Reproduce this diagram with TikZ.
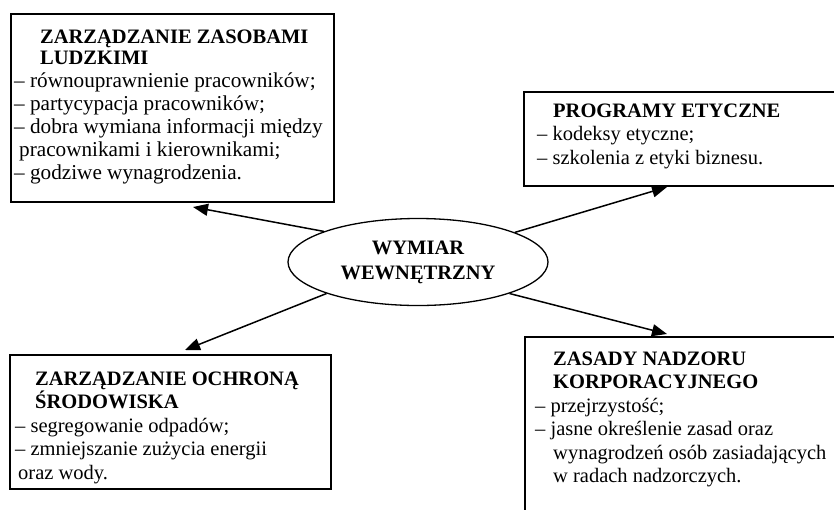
\documentclass[tikz,border=0pt]{standalone}
\usepackage{fontspec}
\setmainfont{Liberation Serif}
\usetikzlibrary{arrows.meta,shapes.geometric}
\begin{document}
\begin{tikzpicture}[x=1pt,y=-1pt,
  frame/.style={draw, line width=1.5pt, anchor=north west, inner sep=0pt},
  body/.style={inner sep=0pt, anchor=north west, align=left,
               font=\fontsize{20.5}{23.5}\selectfont},
  link/.style={line width=1.5pt, -{Triangle[length=15pt,width=12pt]}},
]
\useasboundingbox (0,0) rectangle (834,509);
\clip (0,0) rectangle (834,509);
\newcommand{\firstline}{\rule{0pt}{20pt}}
\newcommand{\headline}[1]{{\fontsize{20.5}{23}\selectfont\textbf{#1}}}

% frames (the right-hand ones run past the page edge)
\node[frame, minimum width=323pt, minimum height=188pt] (hr) at (10,13) {};
\node[frame, minimum width=330pt, minimum height=94pt] (eth) at (523,91) {};
\node[frame, minimum width=321pt, minimum height=134pt] (env) at (9,354) {};
\node[frame, minimum width=330pt, minimum height=190pt] (gov) at (524,336) {};

% texts
\node[body, font=\fontsize{21.2}{23}\selectfont] (hrtext) at (14,23)
  {\firstline\hspace*{26pt}\headline{ZARZĄDZANIE ZASOBAMI}\\[-2pt]
  \hspace*{26pt}\headline{LUDZKIMI}\\
  – równouprawnienie pracowników;\\
  – partycypacja pracowników;\\
  – dobra wymiana informacji między\\
  \hspace*{5pt}pracownikami i kierownikami;\\
  – godziwe wynagrodzenia.};

\node[body] (ethtext) at (537,97) {\firstline\hspace*{16pt}\textbf{PROGRAMY ETYCZNE}\\
  – kodeksy etyczne;\\
  – szkolenia z etyki biznesu.};

\node[body] (envtext) at (15,365) {\firstline\hspace*{20pt}\textbf{ZARZĄDZANIE OCHRONĄ}\\
  \hspace*{20pt}\textbf{ŚRODOWISKA}\\
  – segregowanie odpadów;\\
  – zmniejszanie zużycia energii\\
  \hspace*{3pt}oraz wody.};

\node[body] (govtext) at (535,345) {\firstline\hspace*{18pt}\textbf{ZASADY NADZORU}\\
  \hspace*{18pt}\textbf{KORPORACYJNEGO}\\
  – przejrzystość;\\
  – jasne określenie zasad oraz\\
  \hspace*{18pt}wynagrodzeń osób zasiadających\\
  \hspace*{18pt}w radach nadzorczych.};

% centre
\node[draw, ellipse, line width=1.3pt, minimum width=260pt, minimum height=87pt,
      inner sep=0pt, align=center,
      font=\bfseries\fontsize{20.5}{25}\selectfont] (core) at (418,262)
      {WYMIAR\\WEWNĘTRZNY};

% arrow targets just outside the frames
\coordinate (t1) at (193,207);
\coordinate (t2) at (667,187);
\coordinate (t3) at (185,350);
\coordinate (t4) at (667,334);

\draw[link] (core.162) -- (t1);
\draw[link] (core.17) -- (t2);
\draw[link] (core.199) -- (t3);
\draw[link] (core.341) -- (t4);
\end{tikzpicture}
\end{document}
